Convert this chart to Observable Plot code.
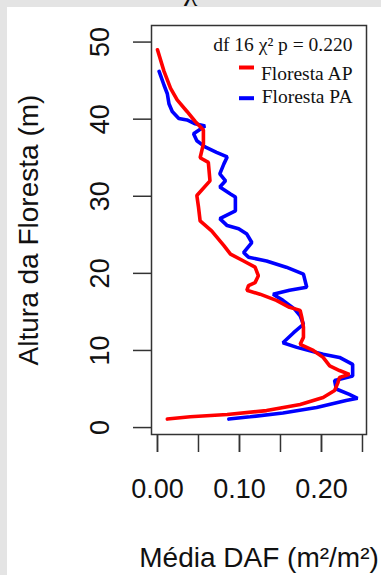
<!DOCTYPE html>
<html>
<head>
<meta charset="utf-8">
<script src="https://cdn.jsdelivr.net/npm/d3@7"></script>
<script src="https://cdn.jsdelivr.net/npm/@observablehq/plot@0.6"></script>
<style>
  html, body { margin: 0; padding: 0; }
  body { background: #e4e4e4; width: 381px; height: 575px; overflow: hidden; }
  #wrap { position: relative; width: 381px; height: 575px; }
  #panel { position: absolute; left: 7px; top: 7px; right: 0; bottom: 0; background: #ffffff; }
  #title { position: absolute; left: 0; top: 0; width: 381px; height: 7px; overflow: hidden; }
  #title span { position: absolute; left: 184px; top: -25px; font-family: "Liberation Serif", serif; font-size: 30px; color: #111; line-height: 30px; }
  #chart { position: absolute; left: 0; top: 0; }
</style>
</head>
<body>
<div id="wrap">
  <div id="panel"></div>
  <div id="title"><span>χ²</span></div>
  <div id="chart"></div>
</div>
<script>
// ---- data ----
const apHeight = [1.1, 1.4, 1.7, 2.2, 3.0, 3.9, 4.8, 5.8, 6.5, 6.9, 7.4, 8.0, 9.1, 10.0, 10.8, 11.7, 13.0, 14.3, 15.2, 15.6, 16.5, 17.3, 17.8, 18.4, 18.8, 19.7, 20.8, 21.6, 22.5, 23.6, 25.5, 26.8, 28.6, 30.1, 32.0, 34.4, 35.0, 36.8, 38.6, 39.7, 41.0, 42.5, 44.0, 46.2, 49.0];
const apDaf    = [0.012, 0.040, 0.085, 0.133, 0.174, 0.202, 0.216, 0.220, 0.222, 0.234, 0.222, 0.210, 0.202, 0.190, 0.174, 0.178, 0.178, 0.176, 0.174, 0.161, 0.145, 0.125, 0.109, 0.111, 0.119, 0.123, 0.119, 0.105, 0.089, 0.081, 0.066, 0.052, 0.050, 0.048, 0.064, 0.062, 0.052, 0.056, 0.056, 0.046, 0.036, 0.024, 0.016, 0.008, 0.000];

const paHeight = [1.1, 1.4, 1.9, 2.6, 3.5, 3.8, 4.3, 5.0, 6.1, 6.7, 8.2, 9.1, 9.5, 10.4, 11.0, 12.3, 13.4, 14.5, 15.4, 16.5, 17.3, 17.8, 18.2, 19.9, 20.8, 21.6, 22.1, 22.7, 24.0, 25.1, 25.8, 26.2, 27.1, 28.1, 29.9, 30.3, 31.2, 32.0, 32.9, 34.2, 35.1, 35.7, 36.4, 37.2, 38.1, 39.1, 39.4, 39.9, 40.1, 41.0, 42.0, 43.3, 44.4, 46.2];
const paDaf    = [0.087, 0.113, 0.153, 0.194, 0.230, 0.244, 0.234, 0.218, 0.216, 0.238, 0.238, 0.222, 0.202, 0.170, 0.153, 0.166, 0.178, 0.174, 0.167, 0.153, 0.141, 0.161, 0.182, 0.178, 0.157, 0.133, 0.111, 0.105, 0.115, 0.109, 0.099, 0.085, 0.076, 0.095, 0.095, 0.089, 0.076, 0.083, 0.076, 0.081, 0.085, 0.072, 0.058, 0.048, 0.044, 0.058, 0.046, 0.036, 0.026, 0.018, 0.014, 0.012, 0.008, 0.002];

const seriesNames = ["Floresta AP", "Floresta PA"];
const seriesColors = ["#ff0000", "#0000ff"];
const xTicks = [0, 0.05, 0.10, 0.15, 0.20, 0.25];
const xLabels = [0, 0.10, 0.20];
const yTicks = [0, 10, 20, 30, 40, 50];
const xTitle = "Média DAF (m²/m²)";
const yTitle = "Altura da Floresta (m)";
const statText = "df 16 χ² p = 0.220";

// ---- build table ----
const ap = apHeight.map((h, i) => ({h, v: apDaf[i], s: seriesNames[0]}));
const pa = paHeight.map((h, i) => ({h, v: paDaf[i], s: seriesNames[1]}));

const axisColor = "#333";
const sans = "'Liberation Sans', Arial, sans-serif";
const serif = "'Liberation Serif', 'Times New Roman', serif";
const legendText = {frameAnchor: "top-right", dx: -14, textAnchor: "end", lineAnchor: "bottom", fontFamily: serif, fontSize: 19.5, fill: "#111"};

const plot = Plot.plot({
  width: 381,
  height: 575,
  marginLeft: 151,
  marginRight: 15,
  marginTop: 25,
  marginBottom: 141,
  style: {background: "none", fontFamily: sans, color: "#111", overflow: "visible"},
  x: {domain: [-0.0073, 0.2549], label: null},
  y: {domain: [-0.9, 52.15], label: null},
  marks: [
    Plot.frame({stroke: axisColor, strokeWidth: 1.5}),
    Plot.line(pa, {x: "v", y: "h", stroke: seriesColors[1], strokeWidth: 3.6, strokeLinejoin: "miter"}),
    Plot.line(ap, {x: "v", y: "h", stroke: seriesColors[0], strokeWidth: 3.6, strokeLinejoin: "miter"}),
    Plot.axisX(xTicks, {tickSize: 18, tickFormat: () => "", stroke: axisColor, strokeWidth: 1.5, label: null}),
    Plot.axisX(xLabels, {tickSize: 18, tickPadding: 26, tickFormat: d3.format(".2f"), fontSize: 27, fill: "#111", stroke: axisColor, strokeWidth: 1.5, label: null}),
    Plot.axisY(yTicks, {tickSize: 18, tickFormat: () => "", stroke: axisColor, strokeWidth: 1.5, label: null}),
    Plot.text(yTicks, {y: d => d, text: d => String(d), frameAnchor: "left", dx: -51, rotate: -90, textAnchor: "middle", lineAnchor: "middle", fontSize: 27, fill: "#111"}),
    Plot.text([xTitle], {frameAnchor: "bottom", dy: 124, textAnchor: "middle", lineAnchor: "middle", fontSize: 28, fill: "#111"}),
    Plot.text([yTitle], {frameAnchor: "left", dx: -122, rotate: -90, textAnchor: "middle", lineAnchor: "middle", fontSize: 28, fill: "#111"}),
    Plot.text([statText], {...legendText, dy: 25}),
    Plot.text([seriesNames[0]], {...legendText, dy: 54}),
    Plot.text([seriesNames[1]], {...legendText, dy: 77})
  ]
});

document.getElementById("chart").appendChild(plot);

// legend swatches (layout only)
const svg = d3.select(plot);
const swY = [67.5, 98.2];
seriesColors.forEach((c, i) => {
  svg.append("rect").attr("x", 239).attr("y", swY[i] - 2).attr("width", 15).attr("height", 4).attr("fill", c);
});
</script>
</body>
</html>
